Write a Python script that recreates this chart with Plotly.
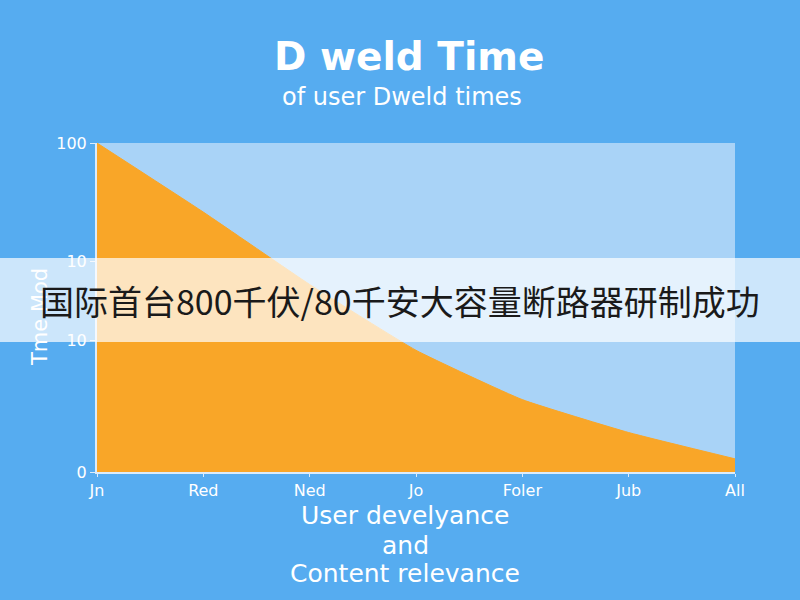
import plotly.graph_objects as go

# data
months = ["Jn", "Red", "Ned", "Jo", "Foler", "Jub", "All"]
dwell_time = [100, 79, 57, 37, 22, 12, 4]

# the reference labels its y ticks oddly: the values are linear, the labels are not
y_tick_vals = [0, 40, 64, 100]
y_tick_text = ["0", "10", "10", "100"]

title_text = "D weld Time"
subtitle_text = "of user Dweld times"
x_title_lines = ["User develyance", "and", "Content relevance"]
y_title = "Tme Mod"
banner_text = "国际首台800千伏/80千安大容量断路器研制成功"

bg_blue = "#56acf0"
plot_blue = "#a9d3f7"
orange = "#f9a628"
font_main = "DejaVu Sans, Verdana, sans-serif"

# plot area in pixels: left 97, right 735, top 143, bottom 472
def py(px):
    return (472 - px) / 329

def pxx(px):
    return (px - 97) / 638

fig = go.Figure()

fig.add_trace(go.Scatter(
    x=months,
    y=dwell_time,
    mode="lines",
    fill="tozeroy",
    fillcolor=orange,
    line=dict(color=orange, width=1, shape="spline", smoothing=0.4),
    hoverinfo="x+y",
    showlegend=False,
))

fig.update_layout(
    width=800,
    height=600,
    paper_bgcolor=bg_blue,
    plot_bgcolor=plot_blue,
    margin=dict(l=97, r=65, t=143, b=128),
    font=dict(family=font_main, color="white"),
    xaxis=dict(
        type="category",
        range=[0, 6],
        showgrid=False,
        zeroline=False,
        showline=True,
        linecolor="#dcecfb",
        linewidth=2,
        ticks="outside",
        ticklen=3,
        tickcolor="#dcecfb",
        tickfont=dict(size=16, color="white"),
    ),
    yaxis=dict(
        range=[0, 100],
        tickvals=y_tick_vals,
        ticktext=y_tick_text,
        showgrid=False,
        zeroline=False,
        showline=True,
        linecolor="#dcecfb",
        linewidth=2,
        ticks="outside",
        ticklen=5,
        tickcolor="#dcecfb",
        tickfont=dict(size=16, color="white"),
    ),
)

fig.add_annotation(
    text="<b>" + title_text + "</b>", xref="paper", yref="paper",
    x=pxx(409), y=py(57), xanchor="center", yanchor="middle", showarrow=False,
    font=dict(size=39, color="white", family=font_main),
)
fig.add_annotation(
    text=subtitle_text, xref="paper", yref="paper",
    x=pxx(402), y=py(97), xanchor="center", yanchor="middle", showarrow=False,
    font=dict(size=24, color="white", family=font_main),
)
for line_text, line_y in zip(x_title_lines, [515, 545, 573]):
    fig.add_annotation(
        text=line_text, xref="paper", yref="paper",
        x=pxx(405), y=py(line_y), xanchor="center", yanchor="middle", showarrow=False,
        font=dict(size=25, color="white", family=font_main),
    )
fig.add_annotation(
    text=y_title, xref="paper", yref="paper",
    x=pxx(40), y=py(317), xanchor="center", yanchor="middle", textangle=-90,
    showarrow=False,
    font=dict(size=21, color="white", family=font_main),
)

# the light banner across the middle
fig.add_shape(
    type="rect", xref="paper", yref="paper",
    x0=-0.2, x1=1.2, y0=py(342), y1=py(258),
    fillcolor="rgba(255,255,255,0.7)", line=dict(width=0), layer="above",
)
fig.add_annotation(
    text=banner_text, xref="paper", yref="paper",
    x=pxx(400), y=py(300), xanchor="center", yanchor="middle", showarrow=False,
    font=dict(size=34, color="#1a1a1a", family="Noto Sans CJK SC"),
)

fig.write_html("out.html", config={"displayModeBar": False},
               post_script="document.body.style.margin='0';")
